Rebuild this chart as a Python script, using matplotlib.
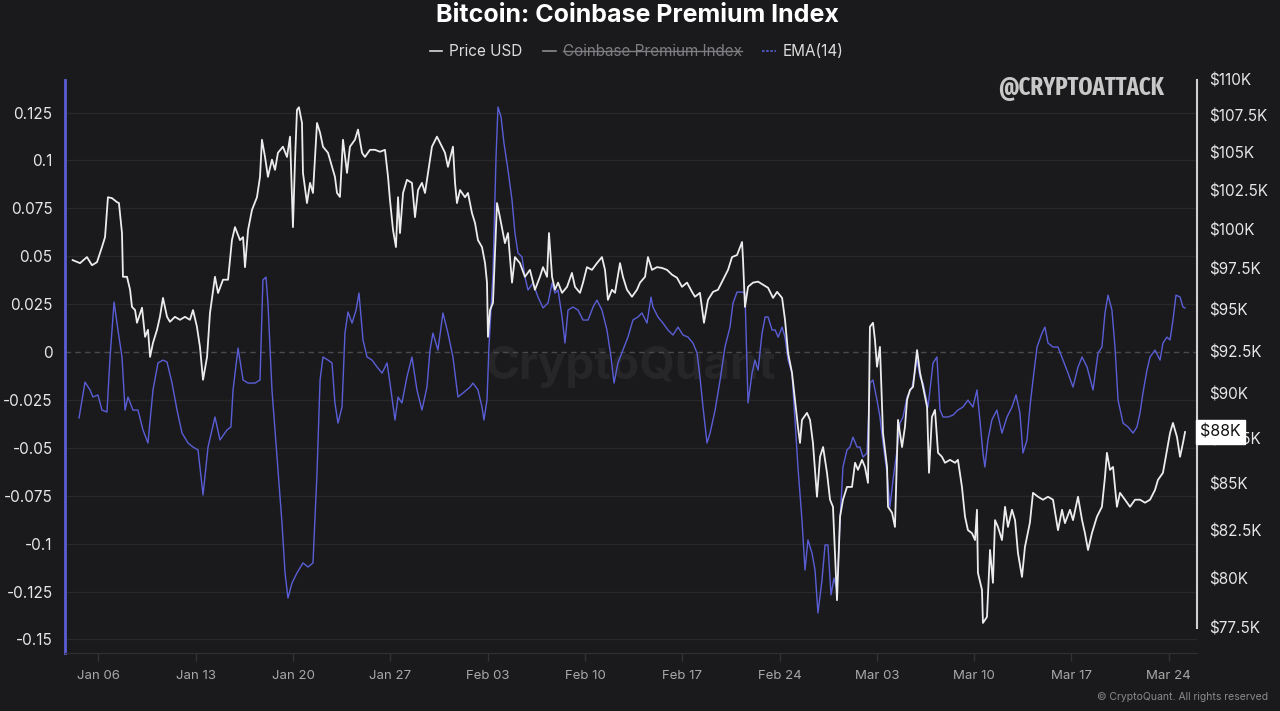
import matplotlib
matplotlib.use("Agg")
import matplotlib.pyplot as plt
import matplotlib.dates as mdates
import matplotlib.ticker as mticker
from matplotlib.lines import Line2D
from matplotlib import font_manager
import numpy as np
import pandas as pd

# ---------------- data ----------------
# time = days since 2025-01-01 00:00
price_t = [3.14, 3.67, 4.17, 4.53, 4.89, 5.25, 5.47, 5.68, 5.97, 6.33, 6.47, 6.69, 6.76, 7.05, 7.27, 7.41,
           7.63, 7.77, 8.13, 8.35, 8.56, 8.71, 8.92, 9.21, 9.42, 9.64, 9.93, 10.14, 10.50, 10.86, 11.22,
           11.58, 11.80, 12.08, 12.30, 12.52, 12.81, 13.02, 13.38, 13.60, 13.96, 14.32, 14.60, 14.82, 15.18,
           15.40, 15.54, 15.76, 16.04, 16.40, 16.62, 16.76, 16.98, 17.19, 17.48, 17.70, 17.91, 18.27, 18.56,
           18.78, 18.99, 19.14, 19.28, 19.42, 19.64, 19.71, 20.00, 20.22, 20.43, 20.72, 20.94, 21.15, 21.51,
           21.80, 22.01, 22.16, 22.37, 22.59, 22.88, 23.09, 23.45, 23.67, 23.96, 24.17, 24.53, 24.89, 25.25,
           25.61, 25.83, 25.97, 26.19, 26.40, 26.55, 26.69, 26.91, 27.19, 27.55, 27.77, 27.99, 28.27, 28.49,
           28.71, 28.99, 29.35, 29.71, 29.93, 30.14, 30.50, 30.65, 30.79, 31.01, 31.37, 31.58, 31.87, 32.09,
           32.30, 32.59, 32.81, 32.95, 33.02, 33.17, 33.38, 33.67, 33.88, 34.24, 34.46, 34.75, 34.96, 35.32,
           35.68, 36.04, 36.40, 36.76, 36.98, 37.27, 37.41, 37.63, 37.84, 38.06, 38.35, 38.71, 39.06, 39.28,
           39.64, 39.86, 40.14, 40.50, 40.86, 41.22, 41.44, 41.65, 41.94, 42.16, 42.52, 42.73, 43.02, 43.38,
           43.74, 43.96, 44.32, 44.53, 44.82, 45.18, 45.54, 45.90, 46.26, 46.62, 46.98, 47.34, 47.70, 47.91,
           48.27, 48.56, 48.85, 49.21, 49.57, 49.93, 50.29, 50.58, 50.94, 51.30, 51.37, 51.51, 51.73, 52.09,
           52.45, 52.81, 53.17, 53.53, 53.82, 54.18, 54.39, 54.61, 54.89, 55.11, 55.32, 55.47, 55.61, 55.97,
           56.19, 56.40, 56.69, 56.91, 57.13, 57.41, 57.63, 57.84, 58.13, 58.35, 58.56, 58.85, 59.21, 59.43,
           59.64, 59.93, 60.14, 60.36, 60.50, 60.72, 60.86, 61.01, 61.22, 61.44, 61.73, 61.80, 62.09, 62.30,
           62.52, 62.81, 63.02, 63.17, 63.38, 63.60, 63.89, 64.10, 64.32, 64.61, 64.75, 64.96, 65.18, 65.40,
           65.68, 65.90, 66.26, 66.62, 66.83, 67.12, 67.34, 67.55, 67.84, 68.06, 68.20, 68.27, 68.56, 68.63,
           68.92, 69.14, 69.35, 69.50, 69.71, 70.00, 70.22, 70.43, 70.72, 70.94, 71.15, 71.44, 71.65, 72.01,
           72.23, 72.59, 72.95, 73.31, 73.67, 74.03, 74.32, 74.53, 74.89, 75.11, 75.47, 75.76, 75.97, 76.19,
           76.47, 76.83, 77.19, 77.41, 77.55, 77.77, 77.99, 78.27, 78.49, 78.85, 79.21, 79.57, 79.93, 80.29,
           80.65, 81.01, 81.22, 81.58, 81.87, 82.09, 82.30, 82.59, 82.81, 83.02, 83.17]
price_usd = [98.04, 97.85, 98.23, 97.72, 97.91, 98.86, 99.49, 102.06, 102.0, 101.74, 101.68, 99.75, 97.0, 97.0,
             96.2, 95.15, 94.96, 94.19, 95.1, 93.35, 93.77, 92.16, 92.99, 93.77, 94.55, 95.70, 94.55, 94.25,
             94.55, 94.37, 94.55, 94.37, 94.96, 93.96, 92.75, 90.82, 92.16, 94.78, 97.0, 96.0, 96.82, 96.82,
             99.3, 100.13, 99.3, 99.49, 97.6, 99.94, 101.23, 102.06, 103.4, 105.88, 104.72, 103.4, 104.54,
             103.86, 105.0, 105.41, 104.72, 106.09, 100.13, 104.54, 107.92, 108.1, 107.02, 103.66, 101.68,
             103.0, 102.34, 107.02, 106.36, 105.41, 105.0, 104.06, 103.4, 102.34, 102.08, 105.88, 103.66,
             105.41, 105.88, 106.57, 105.0, 104.72, 105.2, 105.2, 105.07, 105.2, 103.4, 101.87, 99.94, 98.86,
             102.06, 99.75, 102.34, 103.2, 103.0, 100.77, 102.53, 103.0, 102.34, 103.66, 105.41, 106.09,
             105.41, 105.0, 104.06, 105.41, 103.0, 101.68, 102.53, 102.06, 102.34, 101.03, 100.39, 99.3, 98.86,
             97.85, 96.64, 93.35, 94.96, 95.4, 101.68, 100.77, 99.11, 99.75, 96.64, 98.23, 97.85, 97.0, 97.43,
             96.2, 97.0, 97.6, 97.0, 99.75, 97.0, 96.2, 96.64, 96.01, 96.38, 97.24, 96.38, 96.01, 96.64, 97.6,
             97.43, 97.85, 98.23, 97.43, 95.58, 96.2, 96.01, 97.85, 97.0, 96.2, 95.77, 96.2, 96.64, 97.0,
             98.23, 97.43, 97.6, 97.55, 97.43, 97.13, 96.94, 96.38, 96.64, 96.07, 95.77, 96.01, 94.19, 95.58,
             96.07, 96.2, 96.82, 97.43, 98.23, 98.36, 99.18, 98.04, 95.15, 96.38, 96.64, 96.7, 96.51, 96.32,
             95.7, 96.07, 95.7, 94.37, 92.39, 91.24, 89.66, 88.13, 87.23, 88.52, 88.92, 88.52, 87.23, 84.28,
             86.46, 87.0, 85.58, 84.12, 83.74, 78.89, 83.21, 84.12, 84.81, 84.81, 86.13, 85.74, 86.29, 85.9,
             85.03, 93.95, 94.19, 93.17, 91.58, 92.75, 87.78, 85.9, 83.74, 83.42, 82.67, 88.52, 87.0, 88.13,
             89.66, 90.23, 90.41, 92.56, 91.24, 90.41, 89.26, 85.58, 88.69, 89.09, 86.68, 86.46, 86.13, 86.29,
             86.13, 86.29, 84.81, 83.21, 82.5, 82.34, 81.98, 83.58, 80.28, 79.41, 77.75, 78.05, 81.46, 79.77,
             83.03, 82.67, 81.98, 83.74, 82.67, 83.58, 83.03, 81.3, 80.07, 81.61, 82.9, 84.49, 84.28, 84.12,
             84.28, 84.12, 82.5, 83.58, 82.87, 83.58, 83.03, 84.28, 83.03, 82.34, 81.46, 82.34, 83.21, 83.74,
             85.36, 86.68, 85.74, 85.9, 83.74, 84.49, 84.12, 83.74, 84.12, 84.12, 83.96, 84.12, 84.65, 85.19,
             85.58, 86.84, 87.78, 88.35, 87.56, 86.46, 87.23, 87.84]  # thousands of USD

ema_t = [3.60, 4.03, 4.39, 4.60, 4.96, 5.25, 5.61, 5.83, 6.12, 6.40, 6.69, 6.91, 7.12, 7.48, 7.84, 8.20, 8.56,
         8.92, 9.28, 9.64, 9.93, 10.29, 10.65, 11.01, 11.44, 11.80, 12.16, 12.52, 12.88, 13.38, 13.74, 14.24,
         14.53, 14.68, 15.04, 15.40, 15.76, 16.26, 16.62, 16.83, 17.05, 17.19, 17.48, 17.84, 18.20, 18.42,
         18.63, 18.92, 19.28, 19.71, 20.07, 20.43, 20.72, 20.94, 21.15, 21.51, 21.80, 22.01, 22.23, 22.52,
         22.73, 22.95, 23.24, 23.53, 23.74, 24.03, 24.32, 24.68, 25.04, 25.40, 25.76, 25.97, 26.33, 26.55,
         26.83, 27.19, 27.55, 27.91, 28.27, 28.63, 28.85, 29.06, 29.42, 29.78, 30.14, 30.50, 30.86, 31.22,
         31.73, 31.94, 32.30, 32.59, 32.73, 32.95, 33.09, 33.38, 33.60, 33.74, 33.96, 34.17, 34.46, 34.75,
         34.96, 35.18, 35.47, 35.68, 35.90, 36.26, 36.62, 36.98, 37.34, 37.63, 37.84, 38.06, 38.35, 38.56,
         38.78, 39.14, 39.50, 39.86, 40.22, 40.58, 40.86, 41.22, 41.58, 41.87, 42.09, 42.37, 42.73, 43.09,
         43.45, 43.81, 44.10, 44.46, 44.75, 44.89, 45.25, 45.61, 45.97, 46.33, 46.69, 47.05, 47.41, 47.77,
         48.06, 48.27, 48.49, 48.78, 49.00, 49.36, 49.72, 50.07, 50.43, 50.65, 50.94, 51.30, 51.51, 51.73,
         52.02, 52.23, 52.45, 52.74, 52.96, 53.17, 53.46, 53.68, 53.90, 54.18, 54.39, 54.61, 54.89, 55.11,
         55.32, 55.61, 55.83, 56.04, 56.33, 56.55, 56.76, 57.05, 57.27, 57.48, 57.70, 57.91, 58.13, 58.35,
         58.56, 58.85, 59.06, 59.28, 59.57, 59.78, 60.00, 60.29, 60.50, 60.72, 61.01, 61.22, 61.44, 61.73,
         61.94, 62.16, 62.45, 62.66, 62.88, 63.17, 63.53, 63.89, 64.10, 64.32, 64.68, 65.04, 65.32, 65.54,
         65.76, 66.12, 66.48, 66.83, 67.19, 67.55, 67.91, 68.20, 68.41, 68.63, 68.77, 68.99, 69.27, 69.63,
         70.00, 70.36, 70.72, 71.01, 71.29, 71.51, 71.80, 72.01, 72.23, 72.52, 72.88, 73.09, 73.31, 73.67,
         74.03, 74.39, 74.75, 75.11, 75.47, 75.76, 76.12, 76.55, 76.91, 77.19, 77.41, 77.63, 77.91, 78.13,
         78.35, 78.71, 79.07, 79.43, 79.71, 79.93, 80.14, 80.43, 80.65, 81.01, 81.37, 81.58, 81.87, 82.09,
         82.30, 82.52, 82.81, 83.02, 83.17]
ema_val = [-0.0344, -0.0157, -0.0198, -0.0235, -0.0224, -0.0303, -0.0313, -0.0026, 0.0261, 0.0115, -0.0026,
           -0.0303, -0.0235, -0.0303, -0.0303, -0.0407, -0.0475, -0.0198, -0.0057, -0.0042, -0.0052, -0.0162,
           -0.0303, -0.0423, -0.0475, -0.0496, -0.0511, -0.0746, -0.0496, -0.0339, -0.0459, -0.0407, -0.0391,
           -0.0198, 0.0021, -0.0146, -0.0162, -0.0162, -0.0146, 0.0376, 0.0391, 0.0256, -0.0198, -0.0548,
           -0.0892, -0.1153, -0.1284, -0.1206, -0.1153, -0.1101, -0.1122, -0.1101, -0.0632, -0.0146, -0.0026,
           -0.0042, -0.0057, -0.0266, -0.0371, -0.0287, 0.0099, 0.0209, 0.0151, 0.0219, 0.0308, 0.0063,
           -0.0026, -0.0042, -0.0078, -0.0110, -0.0057, -0.0162, -0.0355, -0.0235, -0.0266, -0.0130, -0.0026,
           -0.0198, -0.0303, -0.0183, 0.0010, 0.0099, 0.0010, 0.0204, 0.0099, -0.0026, -0.0235, -0.0214,
           -0.0183, -0.0162, -0.0198, -0.0287, -0.0355, -0.0251, 0.0026, 0.0412, 0.1018, 0.1279, 0.1227,
           0.1091, 0.0950, 0.0793, 0.0621, 0.0517, 0.0496, 0.0391, 0.0324, 0.0360, 0.0287, 0.0230, 0.0256,
           0.0360, 0.0308, 0.0324, 0.0183, 0.0047, 0.0219, 0.0235, 0.0219, 0.0167, 0.0167, 0.0235, 0.0271,
           0.0219, 0.0115, -0.0026, -0.0162, -0.0057, 0.0010, 0.0078, 0.0167, 0.0183, 0.0204, 0.0151, 0.0287,
           0.0235, 0.0183, 0.0151, 0.0115, 0.0089, 0.0130, 0.0089, 0.0078, 0.0047, -0.0005, -0.0130, -0.0287,
           -0.0475, -0.0423, -0.0303, -0.0146, 0.0026, 0.0130, 0.0256, 0.0313, 0.0313, 0.0308, -0.0266,
           -0.0110, -0.0042, -0.0094, 0.0099, 0.0183, 0.0183, 0.0115, 0.0115, 0.0078, 0.0130, 0.0078, -0.0042,
           -0.0110, -0.0355, -0.0600, -0.0877, -0.1138, -0.0981, -0.1049, -0.1138, -0.1362, -0.1190, -0.1007,
           -0.1007, -0.1268, -0.1180, -0.1242, -0.0877, -0.0600, -0.0511, -0.0496, -0.0444, -0.0496, -0.0496,
           -0.0548, -0.0527, -0.0162, -0.0146, -0.0251, -0.0339, -0.0475, -0.0632, -0.0809, -0.0668, -0.0511,
           -0.0371, -0.0339, -0.0235, -0.0183, -0.0042, -0.0130, -0.0162, -0.0287, -0.0057, -0.0026, -0.0303,
           -0.0339, -0.0339, -0.0329, -0.0303, -0.0287, -0.0251, -0.0287, -0.0198, -0.0355, -0.0527, -0.0600,
           -0.0459, -0.0355, -0.0303, -0.0423, -0.0339, -0.0287, -0.0224, -0.0318, -0.0527, -0.0459, -0.0287,
           -0.0146, 0.0026, 0.0099, 0.0130, 0.0047, 0.0026, 0.0026, -0.0042, -0.0110, -0.0183, -0.0078,
           -0.0026, -0.0078, -0.0198, -0.0005, 0.0026, 0.0204, 0.0297, 0.0219, 0.0026, -0.0251, -0.0371,
           -0.0391, -0.0423, -0.0391, -0.0318, -0.0214, -0.0094, -0.0026, 0.0010, -0.0042, 0.0047, 0.0078,
           0.0063, 0.0167, 0.0297, 0.0287, 0.0235, 0.0230]

left_ticks = [0.125, 0.1, 0.075, 0.05, 0.025, 0, -0.025, -0.05, -0.075, -0.1, -0.125, -0.15]
right_ticks = [77500, 80000, 82500, 85000, 87500, 90000, 92500, 95000, 97500, 100000, 102500, 105000,
               107500, 110000]
last_label = "$88K"

# ---------------- styling ----------------
BG = "#1a1a1c"
FONT = ["Inter", "DejaVu Sans"]
plt.rcParams["font.family"] = FONT


def condensed_bold_font():
    """Pick the narrowest installed bold face available (for the handle watermark)."""
    best = None
    for f in font_manager.fontManager.ttflist:
        name = (f.name + " " + str(f.fname)).lower().replace("-", "").replace(" ", "").replace("_", "")
        st = str(f.stretch).lower()
        if "extracondensed" in name or "ultracondensed" in name or st in ("extra-condensed", "ultra-condensed"):
            level = 0
        elif "semicondensed" in name or st == "semi-condensed":
            level = 2
        elif "condensed" in name or "narrow" in name or st == "condensed":
            level = 1
        else:
            continue
        w = f.weight if isinstance(f.weight, int) else {"bold": 700, "normal": 400}.get(str(f.weight), 400)
        key = (level, abs(w - 700))
        if best is None or key < best[0]:
            best = (key, f.fname)
    if best is not None:
        return font_manager.FontProperties(fname=best[1], size=19)
    return font_manager.FontProperties(family=["Roboto", "DejaVu Sans"], weight="bold", size=15)


base = pd.Timestamp("2025-01-01")
p_dates = base + pd.to_timedelta(np.array(price_t), unit="D")
e_dates = base + pd.to_timedelta(np.array(ema_t), unit="D")
p_vals = np.array(price_usd) * 1000.0

fig = plt.figure(figsize=(12.8, 7.11), dpi=100, facecolor=BG)
ax = fig.add_axes([65 / 1280, 1 - 653 / 711, (1197 - 65) / 1280, (653 - 80) / 711])
ax.set_facecolor(BG)
ax2 = ax.twinx()

# grid + zero line
for v in left_ticks:
    if v == 0:
        ax.axhline(0, color="#4a4a4e", lw=1.0, ls=(0, (4, 3)), zorder=1)
    else:
        ax.axhline(v, color="#28282b", lw=1.0, zorder=1)

# watermark
ax.text(0.5, 0.5, "CryptoQuant", transform=ax.transAxes, ha="center", va="center",
        fontsize=33, color="#262628", fontweight="bold", zorder=0)

ax.plot(e_dates, ema_val, color="#5a5ed6", lw=1.0, zorder=2)
ax2.plot(p_dates, p_vals, color="#ececec", lw=1.3, zorder=3)

# axes ranges
ax.set_ylim(-0.1571, 0.1420)
xlo = base + pd.Timedelta(days=2.59)
xhi = base + pd.Timedelta(days=84.03)
ax.set_xlim(xlo, xhi)
ax2.set_yscale("log")
ax2.set_ylim(76270, 110000)

# left axis
ax.yaxis.set_major_locator(mticker.FixedLocator(left_ticks))
ax.yaxis.set_major_formatter(mticker.FuncFormatter(lambda v, p: f"{v:g}"))
ax.tick_params(axis="y", length=0, pad=9, labelsize=11, labelcolor="#e6e6e6")
# right axis
ax2.yaxis.set_major_locator(mticker.FixedLocator(right_ticks))
ax2.yaxis.set_minor_locator(mticker.NullLocator())
ax2.yaxis.set_major_formatter(mticker.FuncFormatter(lambda v, p: f"${v/1000:g}K"))
ax2.tick_params(axis="y", length=0, pad=9, labelsize=11, labelcolor="#e6e6e6")
# x axis
ax.xaxis.set_major_locator(mdates.WeekdayLocator(byweekday=mdates.MO, interval=1))
ax.xaxis.set_major_formatter(mdates.DateFormatter("%b %d"))
ax.tick_params(axis="x", length=6, width=1, color="#333336", pad=6, labelsize=9.5, labelcolor="#a8a8a8")
ax2.tick_params(axis="x", length=0)

for a in (ax, ax2):
    a.spines["top"].set_visible(False)
ax.spines["right"].set_visible(False)
ax2.spines["left"].set_visible(False)
ax2.spines["bottom"].set_visible(False)
ax.spines["bottom"].set_color("#303033")
ax.spines["left"].set_color("#5a5ed6")
ax.spines["left"].set_linewidth(2)
ax2.spines["right"].set_color("#d0d0d0")
ax2.spines["right"].set_linewidth(1.5)
ax2.spines["right"].set_bounds(77500, 110000)

# last price label (sits over the $87.5K tick label, as in the source)
ax2.text(1.003, p_vals[-1], last_label, transform=ax2.get_yaxis_transform(), ha="left", va="center",
         fontsize=11.5, color="#111111",
         bbox=dict(boxstyle="square,pad=0.28", fc="white", ec="white"), zorder=5, clip_on=False)

# title
fig.text(637 / 1280, 1 - 15 / 711, "Bitcoin: Coinbase Premium Index", ha="center", va="center",
         fontsize=18, fontweight="bold", color="white")

# legend (manual)
ly = 1 - 51 / 711
def leg_line(x0, x1, color, ls="-"):
    fig.add_artist(Line2D([x0 / 1280, x1 / 1280], [ly, ly], color=color, lw=1.2, ls=ls,
                          transform=fig.transFigure))
leg_line(430, 442, "#d8d8d8")
fig.text(449 / 1280, ly, "Price USD", ha="left", va="center", fontsize=11, color="#dcdcdc")
leg_line(543, 556, "#8a8a8e")
fig.text(563 / 1280, ly, "Coinbase Premium Index", ha="left", va="center", fontsize=11,
         color="#7e7e82")
fig.add_artist(Line2D([563 / 1280, 742 / 1280], [ly, ly], color="#7e7e82", lw=1.0,
                      transform=fig.transFigure))
leg_line(762, 776, "#5a5ed6", ls=(0, (1.5, 1)))
fig.text(783 / 1280, ly, "EMA(14)", ha="left", va="center", fontsize=11, color="#dcdcdc")

# @CRYPTOATTACK watermark: fit to its width in the source (about 167 px)
wm_fp = condensed_bold_font()
wm = fig.text(1164 / 1280, 1 - 89 / 711, "@CRYPTOATTACK", ha="right", va="center",
              fontproperties=wm_fp, color="#c8c8c8")
renderer = fig.canvas.get_renderer()
w_px = wm.get_window_extent(renderer=renderer).width
if w_px > 0:
    new_size = wm_fp.get_size_in_points() * 167.0 / w_px
    wm.set_fontsize(min(new_size, 24))

# copyright
fig.text(1268 / 1280, 1 - 697 / 711, "© CryptoQuant. All rights reserved", ha="right", va="center",
         fontsize=7.5, color="#8a8a8e")

fig.savefig("out.png", dpi=100, facecolor=BG)
